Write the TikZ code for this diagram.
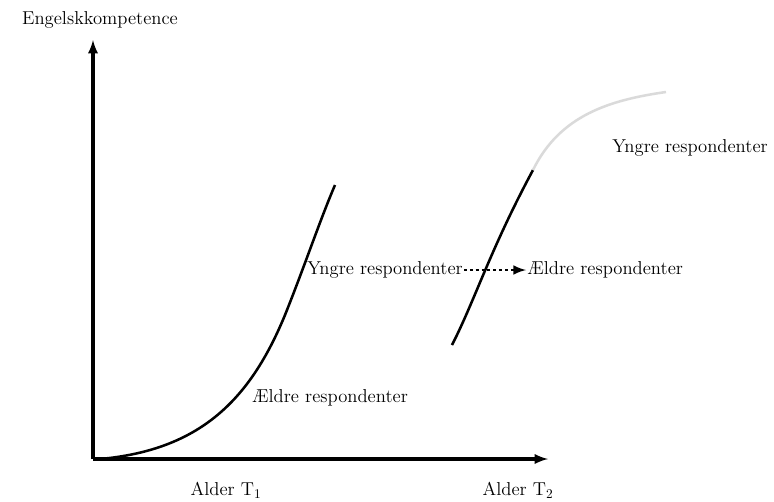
\documentclass[tikz,border=0pt]{standalone}
\usepackage{tikz}
\usepackage{xcolor}
\usetikzlibrary{shapes}

\begin{document}
\begin{tikzpicture}[x=0.75pt,y=0.75pt,yscale=-1,xscale=1,
  axis/.style={line width=2.4pt,-latex},
  curve/.style={line width=1.9pt},
  lbl/.style={inner sep=0.75pt,font=\fontsize{14}{16}\selectfont}]
\path[use as bounding box] (0,0) rectangle (774,501);

%Axes
\coordinate (orig) at (93,459);
\coordinate (ytop) at (93,40);
\coordinate (xend) at (548,459);
\draw[axis] (orig) -- (ytop);
\draw[axis] (orig) -- (xend);

%Curve Lines (older)
\draw[curve] (100,459) .. controls (200,450) and (250,400) .. (285,315) .. controls (305,265) and (320,220) .. (335,185);
%Curve Lines (younger)
\draw[curve] (452,345) .. controls (475,300) and (490,250) .. (533,170);
\draw[curve,color={rgb, 255:red, 218; green, 218; blue, 218}] (533,170) .. controls (560,115) and (610,100) .. (666,92);

% Text Node
\node[lbl] (ylab) at (100,20) {Engelskkompetence};
% Text Node
\node[lbl] (old) at (330,398) {Ældre respondenter};
% Text Node
\node[lbl] (young) at (690,148) {Yngre respondenter};
% Text Node
\node[lbl,anchor=east] (ymid) at (464,270) {Yngre respondenter};
% Text Node
\node[lbl,anchor=west] (emid) at (526,270) {Ældre respondenter};
% Text Node
\node[lbl] (t1) at (226,490) {Alder T$_{1}$};
% Text Node
\node[lbl] (t2) at (518,490) {Alder T$_{2}$};

%Straight Lines
\draw[line width=2.2pt,dash pattern={on 2.2pt off 2.2pt},-latex] (ymid.east) -- (emid.west);

\end{tikzpicture}
\end{document}
